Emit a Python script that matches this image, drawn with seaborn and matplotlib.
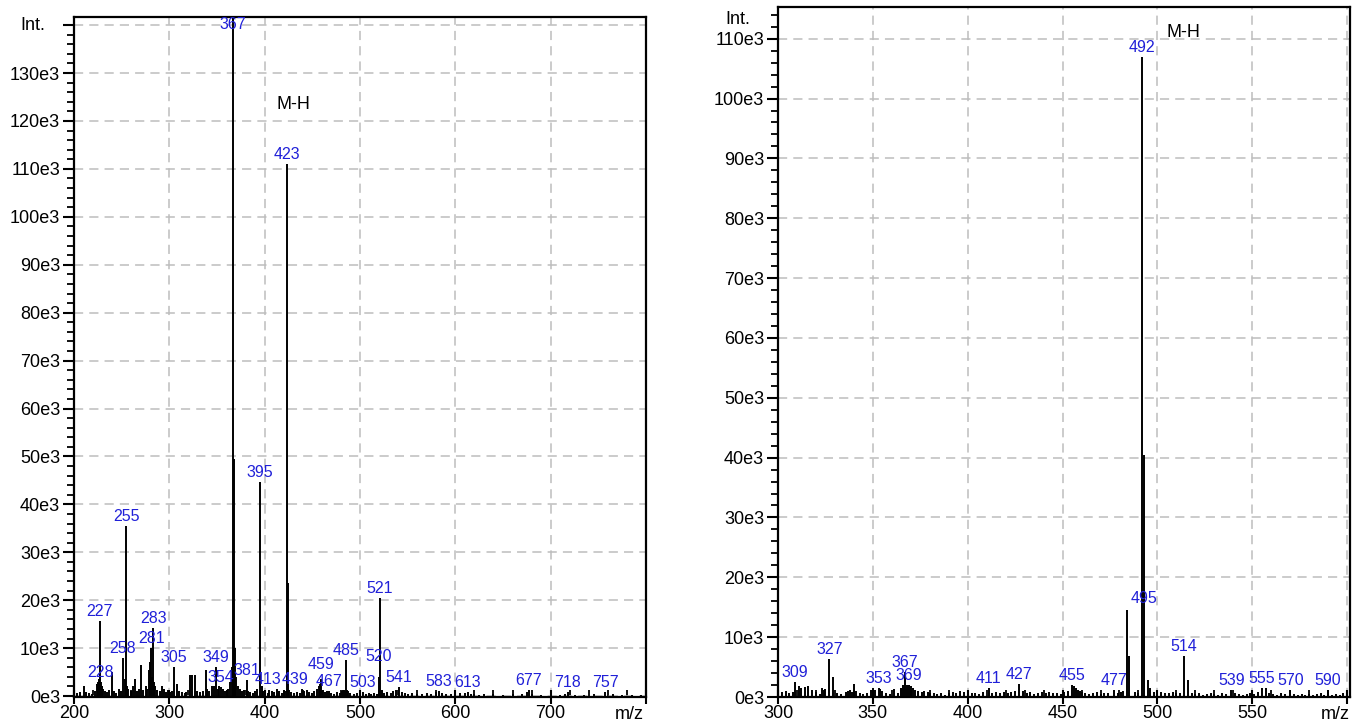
import matplotlib
matplotlib.use("Agg")
import matplotlib.pyplot as plt
import seaborn as sns
from matplotlib.ticker import MultipleLocator, FuncFormatter

# left spectrum: m/z and intensity (in 1e3 counts)
left_mz = [200, 203, 206, 210, 213, 216, 219, 222, 224, 225, 226, 227, 228, 229, 230, 232, 235, 237,
           240, 242, 244, 247, 249, 251, 253, 255, 256, 257, 260, 262, 264, 266, 268, 270, 272, 275,
           277, 279, 280, 281, 282, 283, 284, 285, 287, 290, 292, 294, 296, 299, 301, 303, 305, 308,
           310, 313, 316, 318, 322, 324, 327, 329, 332, 335, 338, 340, 342, 345, 347, 349, 351, 352,
           354, 356, 358, 360, 362, 364, 366, 367, 368, 369, 370, 372, 374, 376, 378, 381, 383, 385,
           388, 390, 392, 395, 397, 398, 400, 403, 405, 408, 410, 413, 415, 418, 420, 422, 423, 424,
           426, 428, 431, 434, 437, 439, 441, 444, 447, 450, 452, 455, 457, 458, 459, 461, 463, 465,
           467, 470, 473, 476, 479, 481, 482, 483, 484, 485, 486, 487, 490, 494, 497, 500, 503, 506,
           509, 512, 515, 518, 520, 521, 523, 525, 528, 532, 535, 538, 541, 544, 547, 550, 555, 560,
           565, 570, 575, 580, 583, 586, 590, 595, 600, 605, 610, 613, 616, 620, 625, 630, 640, 650,
           660, 670, 675, 677, 680, 690, 700, 710, 715, 718, 725, 735, 745, 757, 765, 775, 785, 795]
left_int = [1.2, 0.6, 0.8, 2.0, 0.9, 0.7, 0.5, 1.0, 2.5, 3.0, 3.5, 15.7, 3.0, 2.0, 1.5, 1.0, 0.8, 1.2,
            5.0, 1.0, 0.7, 1.5, 1.0, 8.0, 3.5, 35.5, 2.0, 1.5, 1.0, 2.0, 3.5, 1.0, 1.5, 6.5, 1.2, 2.0,
            1.5, 5.5, 7.0, 10.0, 4.0, 14.2, 3.0, 2.0, 1.2, 1.0, 2.0, 1.5, 0.8, 1.2, 0.8, 1.0, 6.0, 2.5,
            1.0, 0.8, 0.7, 0.9, 4.3, 4.3, 4.3, 1.0, 0.8, 1.0, 5.4, 1.5, 1.0, 2.0, 2.0, 6.0, 1.5, 2.0,
            1.8, 1.5, 1.0, 1.2, 1.5, 3.0, 6.0, 142.0, 49.5, 10.0, 4.0, 2.0, 1.5, 1.0, 1.2, 3.3, 1.0, 0.8,
            0.7, 1.0, 1.5, 44.7, 2.0, 1.0, 0.8, 0.6, 1.2, 1.0, 0.8, 1.5, 1.0, 0.7, 1.2, 1.0, 111.0, 23.5,
            1.2, 0.8, 0.6, 0.8, 0.6, 1.5, 1.0, 1.2, 0.8, 0.6, 1.0, 1.5, 2.0, 2.5, 3.5, 1.2, 0.8, 1.0,
            1.0, 0.6, 0.5, 0.8, 0.7, 1.0, 1.2, 1.2, 1.0, 7.5, 1.2, 1.0, 0.6, 0.5, 0.6, 0.7, 0.8, 0.5,
            0.6, 0.5, 0.7, 0.5, 4.0, 20.5, 1.2, 0.6, 0.8, 0.6, 1.0, 1.2, 1.8, 0.8, 0.6, 0.5, 0.6, 0.5,
            0.4, 0.6, 0.5, 0.8, 1.0, 0.6, 0.5, 0.4, 0.5, 0.6, 0.7, 0.8, 0.5, 0.4, 0.3, 0.5, 0.4, 0.3,
            0.4, 0.5, 0.8, 1.2, 0.5, 0.3, 0.4, 0.3, 0.4, 0.8, 0.3, 0.3, 0.4, 0.8, 0.5, 0.3, 0.3, 0.3]
left_label_mz = [227, 228, 251, 255, 281, 283, 305, 349, 354, 367, 381, 395, 413, 423, 439, 459,
                 467, 485, 503, 520, 521, 541, 583, 613, 677, 718, 757]
left_label_txt = ["227", "228", "258", "255", "281", "283", "305", "349", "354", "367", "381",
                  "395", "413", "423", "439", "459", "467", "485", "503", "520", "521", "541",
                  "583", "613", "677", "718", "757"]

# right spectrum
right_mz = [300, 302, 304, 306, 308, 309, 311, 312, 314, 316, 318, 320, 322, 323, 324, 325, 327, 329,
            331, 333, 336, 337, 338, 339, 340, 341, 343, 345, 347, 349, 350, 351, 353, 354, 355, 357,
            359, 361, 363, 365, 366, 367, 368, 369, 370, 371, 372, 374, 376, 377, 379, 380, 382, 384,
            386, 388, 390, 392, 394, 396, 398, 400, 402, 404, 406, 408, 411, 413, 415, 417, 419, 421,
            423, 425, 427, 429, 431, 433, 435, 437, 439, 441, 443, 445, 447, 449, 451, 453, 455, 456,
            457, 458, 459, 460, 462, 464, 466, 468, 470, 472, 474, 477, 479, 481, 482, 484, 485, 488,
            490, 492, 493, 495, 496, 498, 500, 502, 504, 506, 508, 510, 512, 514, 516, 518, 520, 522,
            524, 526, 528, 530, 532, 534, 536, 539, 541, 543, 545, 547, 549, 551, 553, 555, 557, 559,
            561, 563, 565, 567, 570, 572, 574, 576, 578, 580, 582, 584, 586, 588, 590, 592, 594, 596, 598]
right_int = [1.0, 0.8, 1.0, 0.6, 0.8, 2.5, 1.8, 1.5, 1.6, 1.8, 1.2, 0.8, 0.5, 1.5, 1.2, 1.4, 6.4, 3.4,
             0.6, 0.5, 0.8, 1.0, 1.2, 0.8, 2.1, 1.0, 0.7, 0.5, 0.6, 1.2, 1.5, 1.2, 1.5, 1.4, 1.0, 0.6,
             0.5, 1.3, 0.7, 1.5, 2.0, 4.2, 2.0, 2.0, 1.8, 1.5, 1.2, 1.0, 0.8, 1.0, 0.8, 0.7, 0.6, 0.5,
             0.6, 0.4, 0.6, 0.8, 0.7, 1.0, 0.8, 1.0, 0.6, 0.7, 0.5, 0.8, 1.5, 0.7, 0.9, 0.6, 0.8, 0.6,
             0.9, 1.0, 2.2, 1.0, 0.6, 0.8, 0.5, 0.7, 0.8, 0.6, 0.9, 0.6, 0.7, 0.5, 0.8, 1.0, 2.0, 1.8,
             1.5, 1.2, 1.0, 0.8, 0.6, 0.5, 0.6, 0.8, 0.5, 0.7, 0.6, 1.1, 0.6, 0.8, 1.0, 14.5, 6.9, 0.8,
             0.6, 107.0, 40.5, 2.8, 1.5, 0.8, 0.6, 0.8, 0.6, 0.7, 0.8, 0.6, 0.7, 6.9, 2.8, 0.6, 0.5, 0.6,
             0.4, 0.5, 0.6, 0.5, 0.4, 0.6, 0.5, 1.2, 0.6, 0.5, 0.4, 0.5, 0.6, 0.5, 0.8, 1.5, 1.5, 0.6,
             0.5, 0.4, 0.6, 0.5, 1.2, 0.5, 0.4, 0.5, 0.4, 0.5, 0.4, 0.5, 0.6, 0.4, 1.1, 0.4, 0.5, 0.4, 0.6]
right_label_mz = [309, 327, 353, 367, 369, 411, 427, 455, 477, 495, 492, 514, 539, 555, 570, 590]
right_label_txt = ["309", "327", "353", "367", "369", "411", "427", "455", "477", "495", "492",
                   "514", "539", "555", "570", "590"]

BLUE = "#2020d8"
GRID = "#bdbdbd"

sns.set_style("ticks")
plt.rcParams["font.family"] = ["Liberation Sans", "DejaVu Sans"]
plt.rcParams["text.color"] = "black"
plt.rcParams["xtick.color"] = "black"
plt.rcParams["ytick.color"] = "black"

fig = plt.figure(figsize=(13.56, 7.23), dpi=100)
W, H = 1356, 723
ax1 = fig.add_axes([74 / W, 26 / H, 572 / W, 680 / H])
ax2 = fig.add_axes([778 / W, 26 / H, 572 / W, 690 / H])


def style_axis(ax, xlim, ylim, xmaj, xmin, ytop_tick):
    ax.set_xlim(*xlim)
    ax.set_ylim(*ylim)
    ax.xaxis.set_major_locator(MultipleLocator(xmaj))
    ax.xaxis.set_minor_locator(MultipleLocator(xmin))
    ax.yaxis.set_major_locator(MultipleLocator(10000))
    ax.yaxis.set_minor_locator(MultipleLocator(2000))
    last = xlim[1]

    def xfmt(v, pos):
        if v > last - xmaj * 0.6 or v < xlim[0] - 1:
            return ""
        return f"{int(round(v))}"

    def yfmt(v, pos):
        if v > ytop_tick + 1 or v < -1:
            return ""
        return f"{int(round(v / 1000))}e3"

    ax.xaxis.set_major_formatter(FuncFormatter(xfmt))
    ax.yaxis.set_major_formatter(FuncFormatter(yfmt))
    ax.tick_params(axis="y", which="major", direction="out", length=8, width=1.5,
                   labelsize=13, pad=2, colors="black")
    ax.tick_params(axis="y", which="minor", direction="out", length=5, width=1.3)
    ax.tick_params(axis="x", which="major", direction="inout", length=10, width=1.5,
                   labelsize=13, pad=1, colors="black")
    ax.tick_params(axis="x", which="minor", direction="in", length=5, width=1.3)
    for s in ax.spines.values():
        s.set_linewidth(1.6)
        s.set_color("black")
    ax.grid(True, which="major", color=GRID, linestyle=(0, (6, 4)), linewidth=1.1)
    ax.set_axisbelow(True)
    ax.set_xlabel("")
    ax.set_ylabel("")


def draw_spectrum(ax, mz, inten, lab_mz, lab_txt, ytop, overrides):
    vals = [v * 1000 for v in inten]
    ax.vlines(mz, 0, vals, color="black", linewidth=1.4, zorder=3)
    lookup = dict(zip(mz, vals))
    for m, t in zip(lab_mz, lab_txt):
        x, y = m, min(lookup[m], ytop - 3500)
        if t in overrides:
            x, y = overrides[t]
        ax.annotate(t, (x, y), xytext=(0, 1.5), textcoords="offset points", ha="center",
                    va="bottom", color=BLUE, fontsize=11.5, zorder=4)


# left panel
style_axis(ax1, (200, 800), (-200, 141700), 100, 20, 130000)
ax1.set_yticks(range(0, 140001, 10000))
draw_spectrum(ax1, left_mz, left_int, left_label_mz, left_label_txt, 141700,
              {"520": (520, 6300), "413": (404, 1500), "439": (432, 1500),
               "459": (459, 4600)})
ax1.text(412, 123500, "M-H", fontsize=13, va="center", ha="left")
ax1.annotate("Int.", xy=(0, 140000), xycoords=("axes fraction", "data"), xytext=(-41, 0),
             textcoords="offset pixels", ha="center", va="center", fontsize=13)
ax1.annotate("m/z", xy=(800, 0), xycoords=("data", "axes fraction"), xytext=(-2, -9),
             textcoords="offset pixels", ha="right", va="top", fontsize=13)

# right panel
style_axis(ax2, (300, 601.5), (0, 115300), 50, 10, 110000)
draw_spectrum(ax2, right_mz, right_int, right_label_mz, right_label_txt, 115300,
              {"495": (493, 14900)})
ax2.text(505, 111000, "M-H", fontsize=13, va="center", ha="left")
ax2.annotate("Int.", xy=(0, 113200), xycoords=("axes fraction", "data"), xytext=(-40, 0),
             textcoords="offset pixels", ha="center", va="center", fontsize=13)
ax2.annotate("m/z", xy=(601.5, 0), xycoords=("data", "axes fraction"), xytext=(0, -9),
             textcoords="offset pixels", ha="right", va="top", fontsize=13)

fig.savefig("out.png", dpi=100)
